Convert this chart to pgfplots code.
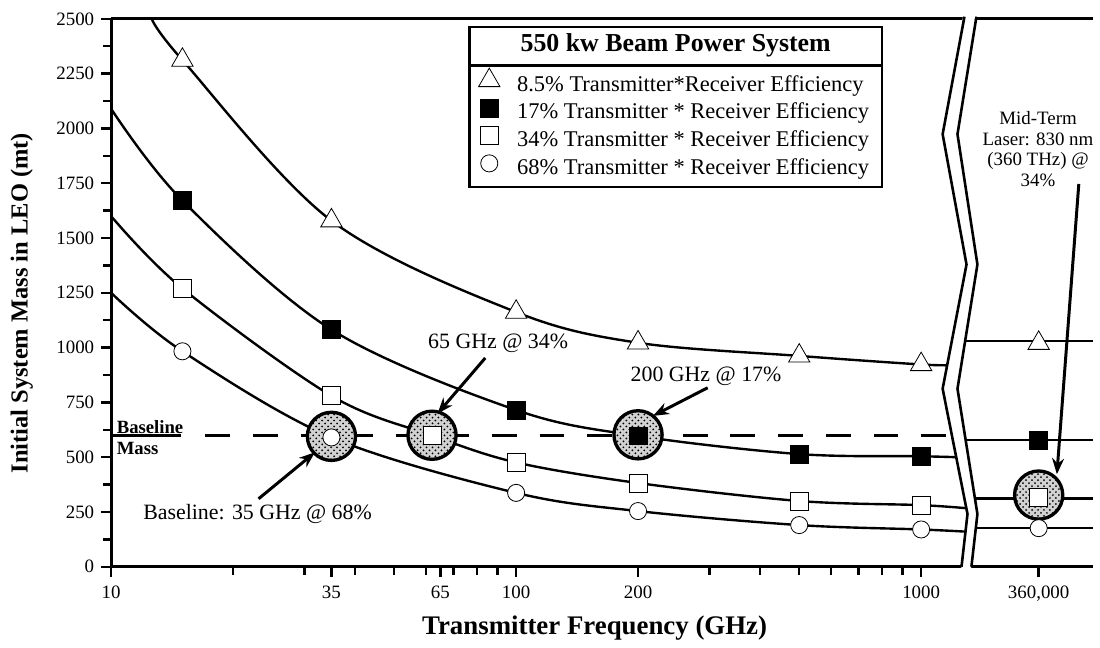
\documentclass[border=0pt]{standalone}
\usepackage{fontspec}
\setmainfont{Liberation Serif}
\usepackage{pgfplots}
\pgfplotsset{compat=1.18}
\usetikzlibrary{arrows.meta,patterns}
\begin{document}
\begin{tikzpicture}
\begin{axis}[
  scale only axis, width=494pt, height=275.5pt,
  xmode=log, xmin=10, xmax=2663, ymin=0, ymax=2500,
  clip=false,
  axis x line*=bottom, axis y line*=left,
  axis line style={line width=1.5pt, -},
  tick style={line width=1.2pt, black},
  tick align=outside,
  major tick length=5pt, minor tick length=4pt,
  xtick={10,35,65,100,200,1000,1951},
  xticklabels={10,35,65,100,200,1000,{360,000}},
  minor xtick={20,30,40,50,60,70,80,90,300,400,500,600,700,800,900},
  ytick={0,250,500,750,1000,1250,1500,1750,2000,2250,2500},
  yticklabels={0,250,500,750,1000,1250,1500,1750,2000,2250,2500},
  minor ytick={125,375,625,875,1125,1375,1625,1875,2125,2375},
  scaled y ticks=false,
  /pgf/number format/assume math mode=true,
  ticklabel style={font=\fontsize{9.5}{10}\selectfont},
  xticklabel style={yshift=-1pt},
  xlabel={Transmitter Frequency (GHz)},
  xlabel style={font=\bfseries\fontsize{13.5}{14}\selectfont, at={(axis description cs:0.4922,-0.1125)}, anchor=center},
  ylabel={Initial System Mass in LEO (mt)},
  ylabel style={font=\bfseries\fontsize{12.3}{13}\selectfont, at={(axis description cs:-0.0908,0.481)}, anchor=center},
  legend cell align=left,
  legend style={at={(rel axis cs:0.3708,0.9047)}, anchor=north west, draw=none, fill=none,
    inner sep=0pt, outer sep=0pt, row sep=-1pt, column sep=0pt,
    nodes={inner sep=0pt, text height=9pt, text depth=4.8pt},
    font=\fontsize{11.3}{13}\selectfont},
  mk/.style={only marks, mark options={line width=1.2pt, draw=black, solid},
    legend image code/.code={\draw[##1, overlay] plot coordinates {(7pt,3.3pt)}; \path[draw=none, fill=none] (0pt,0pt) rectangle (21pt,8pt);}},
]
% baseline dashed line
\addplot[line width=1.5pt, forget plot] coordinates {(10,598) (14.9,598)};
\addplot[line width=1.5pt, dash pattern=on 12.5pt off 11.5pt, forget plot] coordinates {(17.1,598) (1235,598)};
% curves
\addplot[line width=1.2pt, smooth, tension=0.55, forget plot] coordinates {(12.6,2500) (15,2312) (35,1579) (100,1162) (200,1022) (500,962) (1000,923) (1207,920)};
\addplot[line width=1.2pt, smooth, tension=0.55, forget plot] coordinates {(10,2090) (15,1671) (35,1082) (100,715) (200,597) (500,514) (1000,504) (1263,499)};
\addplot[line width=1.2pt, smooth, tension=0.55, forget plot] coordinates {(10,1600) (15,1270) (35,780) (62,599) (100,476) (200,382) (500,300) (1000,281) (1329,265)};
\addplot[line width=1.2pt, smooth, tension=0.55, forget plot] coordinates {(10,1250) (15,983) (35,590) (100,337) (200,254) (500,190) (1000,170) (1319,159)};
% right panel lines
\addplot[line width=1.2pt, forget plot] coordinates {(1235,1031) (2663,1031)};
\addplot[line width=1.2pt, forget plot] coordinates {(1241,577) (2663,577)};
\addplot[line width=1.2pt, forget plot] coordinates {(1314,312) (2663,312)};
\addplot[line width=1.2pt, forget plot] coordinates {(1319,178) (2663,178)};
% highlight circles
\addplot[only marks, mark=*, mark size=12.2pt, mark options={fill=gray!35, draw=black, line width=1.5pt}, forget plot] coordinates {(35,595) (62,600) (200,602) (1951,327)};
\addplot[only marks, mark=*, mark size=11.5pt, mark options={pattern=crosshatch dots, pattern color=black, draw=none}, forget plot] coordinates {(35,595) (62,600) (200,602) (1951,327)};
% markers
\addplot[mk, mark=triangle*, mark size=6.2pt, mark options={fill=white}] coordinates {(15,2312) (35,1579) (100,1162) (200,1022) (500,962) (1000,923) (1951,1020)};
\addlegendentry{8.5\% Transmitter*Receiver Efficiency}
\addplot[mk, mark=square*, mark size=4.5pt, mark options={fill=black}] coordinates {(15,1671) (35,1082) (100,715) (200,597) (500,514) (1000,504) (1951,577)};
\addlegendentry{17\% Transmitter * Receiver Efficiency}
\addplot[mk, mark=square*, mark size=4.5pt, mark options={fill=white}] coordinates {(15,1270) (35,780) (62,599) (100,476) (200,382) (500,300) (1000,281) (1951,315)};
\addlegendentry{34\% Transmitter * Receiver Efficiency}
\addplot[mk, mark=*, mark size=4.3pt, mark options={fill=white}] coordinates {(15,983) (35,590) (100,337) (200,254) (500,190) (1000,170) (1951,176)};
\addlegendentry{68\% Transmitter * Receiver Efficiency}
% top line
\draw[line width=1.5pt] (rel axis cs:0,1) -- (rel axis cs:1,1);
% axis break
\fill[white] (rel axis cs:0.8687,1.02) -- (rel axis cs:0.8465,0.7895) -- (rel axis cs:0.8708,0.5517) -- (rel axis cs:0.8465,0.3249) -- (rel axis cs:0.8718,0.0962) -- (rel axis cs:0.8657,0.0091) -- (rel axis cs:0.8652,-0.012)
  -- (rel axis cs:0.8753,-0.012) -- (rel axis cs:0.8758,0.0091) -- (rel axis cs:0.8819,0.0962) -- (rel axis cs:0.8616,0.3249) -- (rel axis cs:0.8819,0.5517) -- (rel axis cs:0.8616,0.7895) -- (rel axis cs:0.8809,1.02) -- cycle;
\draw[line width=1.3pt] (rel axis cs:0.8687,1.004) -- (rel axis cs:0.8465,0.7895) -- (rel axis cs:0.8708,0.5517) -- (rel axis cs:0.8465,0.3249) -- (rel axis cs:0.8718,0.0962) -- (rel axis cs:0.8657,0);
\draw[line width=1.3pt] (rel axis cs:0.8809,1.004) -- (rel axis cs:0.8616,0.7895) -- (rel axis cs:0.8819,0.5517) -- (rel axis cs:0.8616,0.3249) -- (rel axis cs:0.8819,0.0962) -- (rel axis cs:0.8758,0);
% legend box and title
\draw[line width=1.3pt] (rel axis cs:0.3647,0.9855) rectangle (rel axis cs:0.7847,0.6933);
\draw[line width=1.3pt] (rel axis cs:0.3647,0.9147) -- (rel axis cs:0.7847,0.9147);
\node[font=\bfseries\fontsize{13}{13}\selectfont] at (rel axis cs:0.5747,0.951) {550 kw Beam Power System};
% baseline label
\node[anchor=west, inner sep=0pt, font=\bfseries\fontsize{9.4}{10}\selectfont] at (rel axis cs:0.0054,0.2541) {Baseline};
\node[anchor=west, inner sep=0pt, font=\bfseries\fontsize{9.4}{10}\selectfont] at (rel axis cs:0.0054,0.2160) {Mass};
% annotations
\node[font=\fontsize{11}{12}\selectfont] at (rel axis cs:0.3940,0.4083) {65 GHz @ 34\%};
\node[font=\fontsize{11}{12}\selectfont] at (rel axis cs:0.6056,0.3485) {200 GHz @ 17\%};
\node[font=\fontsize{11}{12}\selectfont] at (rel axis cs:0.1491,0.0967) {Baseline: 35 GHz @ 68\%};
\node[font=\fontsize{9.5}{10.5}\selectfont, align=center] at (rel axis cs:0.9436,0.7623) {Mid-Term\\Laser: 830 nm\\(360 THz) @\\34\%};
\draw[line width=1.5pt, -{Stealth[length=8pt,width=6pt]}] (rel axis cs:0.3809,0.3811) -- (rel axis cs:0.3323,0.2795);
\draw[line width=1.5pt, -{Stealth[length=8pt,width=6pt]}] (rel axis cs:0.6073,0.3267) -- (rel axis cs:0.5516,0.2753);
\draw[line width=1.5pt, -{Stealth[length=8pt,width=6pt]}] (rel axis cs:0.1501,0.1240) -- (rel axis cs:0.2075,0.2087);
\draw[line width=1.5pt, -{Stealth[length=8pt,width=6pt]}] (rel axis cs:0.9851,0.6987) -- (rel axis cs:0.9628,0.1688);
% bounding box
\path (rel axis cs:-0.1131,-0.1452) rectangle (rel axis cs:1,1.0345);
\end{axis}
\end{tikzpicture}
\end{document}
